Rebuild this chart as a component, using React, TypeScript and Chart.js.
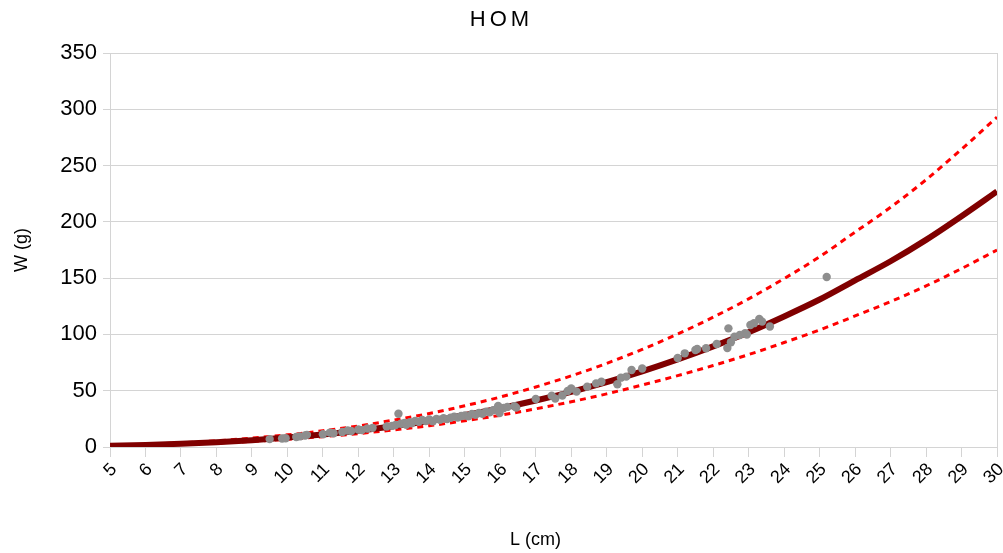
import React, { useEffect, useRef } from 'react';
import { Chart, registerables } from 'chart.js';

Chart.register(...registerables);

// Fitted curve and bounds, read at each integer length (cm)
const curveL = [5, 6, 7, 8, 9, 10, 11, 12, 13, 14, 15, 16, 17, 18, 19, 20, 21, 22, 23, 24, 25, 26, 27, 28, 29, 30];
const fitW = [1.05, 1.8, 2.9, 4.3, 6.1, 8.4, 11.2, 14.5, 18.5, 23, 28.4, 34.4, 41.3, 49, 57.6, 67.2, 77.8, 89.4, 102, 116, 131, 148, 165, 184, 205, 227];
const upperW = [1.36, 2.3, 3.7, 5.5, 7.9, 10.8, 14.4, 18.7, 23.9, 29.7, 36.6, 44.4, 53.3, 63.2, 74.3, 86.7, 100.4, 115.3, 131.6, 149.6, 169, 190.9, 212.9, 237.4, 264.5, 293];
const lowerW = [0.86, 1.48, 2.38, 3.53, 5.0, 6.9, 9.2, 11.9, 15.2, 18.9, 23.3, 28.2, 33.9, 40.2, 47.2, 55.1, 63.4, 72.4, 82.1, 92.8, 104, 116.4, 129.2, 143.1, 158.5, 175];

// Observed specimens
const obsL = [9.5, 9.85, 9.95, 10.25, 10.35, 10.5, 10.55, 11.0, 11.2, 11.3, 11.55, 11.7, 11.8, 12.0, 12.1, 12.25, 12.4, 12.8, 12.95, 13.05, 13.13, 13.2, 13.3, 13.35, 13.45, 13.5, 13.6, 13.7, 13.8, 13.9, 14.0, 14.1, 14.2, 14.3, 14.4, 14.5, 14.6, 14.7, 14.8, 14.9, 15.0, 15.1, 15.2, 15.3, 15.4, 15.5, 15.6, 15.7, 15.8, 15.9, 15.94, 15.98, 16.1, 16.2, 16.4, 16.45, 17.0, 17.45, 17.55, 17.75, 17.9, 18.0, 18.15, 18.45, 18.7, 18.85, 19.3, 19.4, 19.55, 19.7, 20.0, 21.0, 21.2, 21.5, 21.55, 21.8, 22.1, 22.4, 22.43, 22.5, 22.6, 22.75, 22.9, 22.95, 23.05, 23.15, 23.3, 23.38, 23.6, 25.2];
const obsW = [7.0, 7.6, 7.8, 8.9, 9.4, 10.2, 10.8, 11.4, 12.8, 12.2, 13.4, 14.6, 14.2, 15.6, 15.0, 16.4, 17.0, 18.2, 18.8, 19.6, 29.5, 20.6, 21.4, 19.8, 22.0, 21.0, 23.2, 22.4, 24.0, 23.0, 24.4, 22.8, 25.0, 24.2, 25.6, 24.8, 26.0, 27.0, 26.2, 27.6, 28.0, 27.2, 29.4, 28.6, 30.2, 29.6, 31.4, 30.8, 32.6, 33.8, 36.5, 30.2, 34.6, 35.6, 36.2, 35.0, 42.6, 45.6, 43.0, 45.8, 49.8, 52.0, 49.2, 53.6, 56.5, 58.0, 55.8, 61.6, 62.5, 68.4, 69.8, 79.0, 83.2, 86.2, 87.0, 87.7, 91.5, 88.0, 105.4, 93.0, 98.0, 99.5, 101.0, 100.0, 108.4, 110.0, 113.8, 111.4, 107.0, 151.0];

const xTickValues = [5, 6, 7, 8, 9, 10, 11, 12, 13, 14, 15, 16, 17, 18, 19, 20, 21, 22, 23, 24, 25, 26, 27, 28, 29, 30];

const chartTitle = 'HOM';
const xTitle = 'L (cm)';
const yTitle = 'W (g)';

const FONT = "'Liberation Sans', Arial, sans-serif";
const GRID = '#d4d4d4';

const textPlugin = {
  id: 'spacedTexts',
  afterDraw(chart: any) {
    const ctx = chart.ctx as CanvasRenderingContext2D;
    const area = chart.chartArea;
    ctx.save();
    ctx.fillStyle = '#000';
    ctx.textAlign = 'center';
    ctx.textBaseline = 'middle';
    ctx.font = `22px ${FONT}`;
    (ctx as any).letterSpacing = '4px';
    ctx.fillText(chartTitle, chart.width / 2, 20);
    (ctx as any).letterSpacing = '0px';
    ctx.font = `18px ${FONT}`;
    ctx.fillText(xTitle, (area.left + area.right) / 2 - 18, 540);
    ctx.restore();
  },
};

export default function App() {
  const ref = useRef<HTMLCanvasElement>(null);

  useEffect(() => {
    document.body.style.margin = '0';
    const canvas = ref.current;
    if (!canvas) return;
    const pts = (ys: number[]) => curveL.map((x, i) => ({ x, y: ys[i] }));
    const chart = new Chart(canvas, {
      type: 'scatter',
      data: {
        datasets: [
          {
            label: 'Observed',
            data: obsL.map((x, i) => ({ x, y: obsW[i] })),
            backgroundColor: '#8e8e8e',
            borderColor: '#8e8e8e',
            pointRadius: 4.2,
            pointBorderWidth: 0,
            showLine: false,
            order: 0,
          },
          {
            label: 'Fit',
            data: pts(fitW),
            showLine: true,
            borderColor: '#800000',
            backgroundColor: '#800000',
            borderWidth: 6,
            pointRadius: 0,
            cubicInterpolationMode: 'monotone',
            order: 1,
          },
          {
            label: 'Upper',
            data: pts(upperW),
            showLine: true,
            borderColor: '#ff0000',
            backgroundColor: '#ff0000',
            borderWidth: 3,
            borderDash: [6, 5],
            pointRadius: 0,
            cubicInterpolationMode: 'monotone',
            order: 2,
          },
          {
            label: 'Lower',
            data: pts(lowerW),
            showLine: true,
            borderColor: '#ff0000',
            backgroundColor: '#ff0000',
            borderWidth: 3,
            borderDash: [6, 5],
            pointRadius: 0,
            cubicInterpolationMode: 'monotone',
            order: 2,
          },
        ],
      },
      options: {
        responsive: false,
        animation: false,
        layout: { padding: { right: 6, left: 0, top: 53, bottom: 0 } },
        plugins: {
          legend: { display: false },
          tooltip: { enabled: false },
          title: { display: false },
        },
        scales: {
          x: {
            type: 'linear',
            min: 5,
            max: 30,
            afterBuildTicks: (s: any) => {
              s.ticks = xTickValues.map((v) => ({ value: v }));
            },
            afterFit: (s: any) => {
              s.height = 106;
              s.paddingRight = 0;
              s.paddingLeft = 0;
            },
            ticks: {
              stepSize: 1,
              autoSkip: false,
              minRotation: 45,
              maxRotation: 45,
              labelOffset: 4,
              color: '#000',
              padding: 2,
              font: { family: FONT, size: 18 },
            },
            grid: {
              color: (c: any) => (c.tick && (c.tick.value === 5 || c.tick.value === 30) ? GRID : 'rgba(0,0,0,0)'),
              tickColor: GRID,
              tickLength: 10,
              lineWidth: 1,
            },
            border: { color: GRID },
            title: { display: false },
          },
          y: {
            min: 0,
            max: 350,
            afterFit: (s: any) => {
              s.width = 110;
            },
            ticks: {
              stepSize: 50,
              color: '#000',
              padding: 6,
              font: { family: FONT, size: 22 },
            },
            grid: {
              color: GRID,
              tickColor: GRID,
              tickLength: 7,
              lineWidth: 1,
            },
            border: { color: GRID },
            title: {
              display: true,
              text: yTitle,
              color: '#000',
              font: { family: FONT, size: 18 },
              padding: { top: 11, bottom: 0 },
            },
          },
        },
      },
      plugins: [textPlugin],
    } as any);
    return () => chart.destroy();
  }, []);

  return (
    <div style={{ width: 1003, height: 553, background: '#fff' }}>
      <canvas ref={ref} width={1003} height={553} style={{ display: 'block' }} />
    </div>
  );
}
